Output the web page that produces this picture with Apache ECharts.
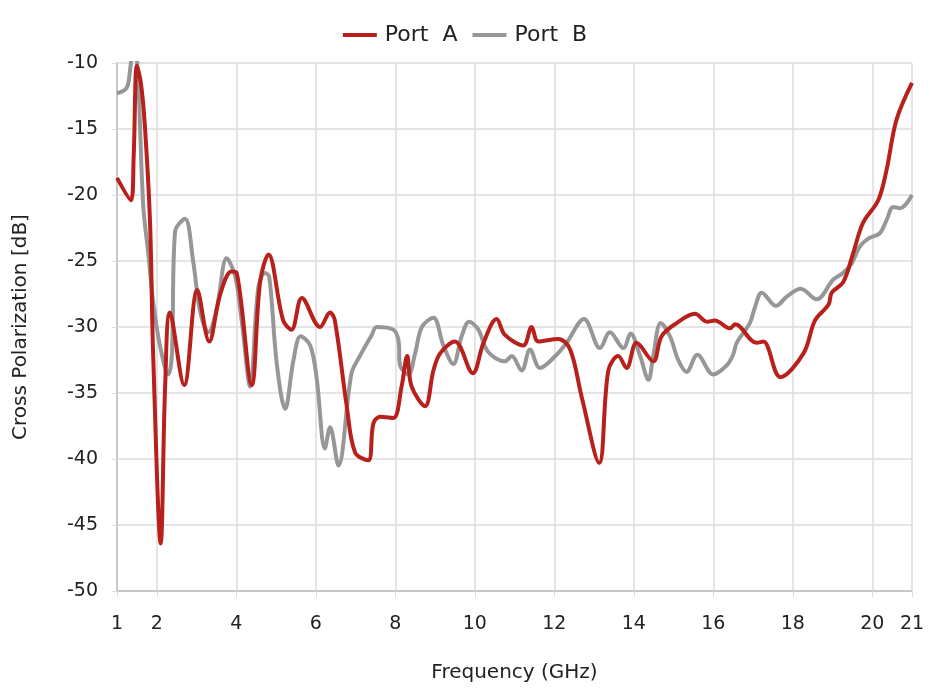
<!DOCTYPE html>
<html>
<head>
<meta charset="utf-8">
<script src="https://cdn.jsdelivr.net/npm/echarts@6/dist/echarts.min.js"></script>
<style>html,body{margin:0;padding:0;background:#fff}#c{width:930px;height:696px}</style>
</head>
<body>
<div id="c"></div>
<script>
const xTicks = [1, 2, 4, 6, 8, 10, 12, 14, 16, 18, 20, 21];
const portAFreq = [1, 1.35, 1.42, 1.5, 1.6, 1.7, 1.83, 1.91, 2.1, 2.21, 2.33, 2.69, 3.02, 3.32, 3.59, 3.88, 4.01, 4.39, 4.6, 4.81, 5.18, 5.39, 5.65, 6.11, 6.36, 6.48, 6.78, 6.99, 7.32, 7.45, 7.62, 7.95, 8.16, 8.3, 8.41, 8.75, 8.96, 9.13, 9.5, 9.95, 10.22, 10.55, 10.76, 11.22, 11.43, 11.6, 12.1, 12.4, 12.69, 13.13, 13.36, 13.61, 13.82, 14.07, 14.49, 14.7, 15.08, 15.54, 15.84, 16.04, 16.42, 16.55, 17.09, 17.26, 17.69, 18.27, 18.56, 18.9, 18.98, 19.27, 19.52, 19.77, 20.15, 20.36, 20.61, 21];
const portAValues = [-18.7, -20.4, -17, -10.2, -11.5, -14.7, -22, -32.1, -46.4, -34.6, -28.9, -34.4, -27.2, -31.1, -27.6, -25.8, -25.9, -34.4, -26.6, -24.5, -29.5, -30.2, -27.8, -30.0, -28.9, -29.5, -36.0, -39.5, -40.1, -37.3, -36.8, -36.9, -34.5, -32.2, -34.5, -36.0, -33.3, -32.0, -31.1, -33.5, -31.2, -29.4, -30.6, -31.4, -30.0, -31.1, -30.9, -31.7, -35.3, -40.3, -33.3, -32.2, -33.1, -31.2, -32.6, -30.7, -29.7, -29.0, -29.6, -29.5, -30.1, -29.8, -31.2, -31.1, -33.8, -32.0, -29.5, -28.3, -27.4, -26.6, -24.4, -22.1, -20.4, -18.1, -14.3, -11.5];
const portBFreq = [1, 1.24, 1.33, 1.42, 1.52, 1.66, 1.79, 1.91, 2.08, 2.29, 2.38, 2.46, 2.71, 2.92, 3.09, 3.3, 3.51, 3.76, 3.97, 4.14, 4.35, 4.55, 4.72, 4.83, 5.02, 5.23, 5.44, 5.62, 5.86, 6.02, 6.23, 6.36, 6.57, 6.9, 7.11, 7.41, 7.53, 7.95, 8.08, 8.12, 8.33, 8.5, 8.67, 8.96, 9.21, 9.46, 9.67, 9.86, 10.09, 10.34, 10.76, 10.93, 11.18, 11.39, 11.64, 12.06, 12.31, 12.75, 13.15, 13.4, 13.74, 13.92, 14.16, 14.37, 14.49, 14.68, 14.91, 15.12, 15.33, 15.6, 16.0, 16.34, 16.5, 16.59, 16.92, 17.05, 17.22, 17.58, 17.85, 18.2, 18.6, 19.02, 19.27, 19.48, 19.69, 19.9, 20.19, 20.36, 20.53, 20.7, 21];
const portBValues = [-12.3, -11.9, -10.5, -8.2, -10.5, -20.8, -24.5, -28.1, -31.4, -33.6, -32.1, -22.8, -21.8, -25.1, -28.8, -30.4, -28.6, -24.8, -26.1, -29.6, -34.5, -27.1, -25.9, -26.2, -32.8, -36.2, -32.5, -30.7, -31.4, -33.8, -39.2, -37.6, -40.5, -33.5, -32.2, -30.6, -30.0, -30.2, -31.0, -32.9, -33.6, -32.0, -30.0, -29.3, -31.4, -32.8, -30.7, -29.6, -30.2, -31.9, -32.6, -32.2, -33.3, -31.7, -33.1, -32.1, -31.2, -29.4, -31.6, -30.4, -31.6, -30.5, -32.2, -34.0, -32.2, -29.7, -30.7, -32.5, -33.4, -32.1, -33.6, -32.9, -32.1, -31.2, -29.7, -28.5, -27.4, -28.4, -27.7, -27.1, -27.9, -26.4, -25.9, -25.2, -23.9, -23.3, -22.9, -21.9, -20.9, -21.0, -20.0];

const font = '"DejaVu Sans", sans-serif';
const chart = echarts.init(document.getElementById('c'));
chart.setOption({
  animation: false,
  textStyle: { fontFamily: font },
  legend: {
    top: 19, left: 'center',
    icon: 'rect', itemWidth: 34, itemHeight: 4, itemGap: 15,
    textStyle: { fontSize: 22, color: '#222', fontFamily: font, padding: [0, 0, 0, 3] },
    data: ['Port  A', 'Port  B']
  },
  grid: { left: 117, right: 18, top: 63, bottom: 105, containLabel: false },
  xAxis: {
    type: 'value', min: 1, max: 21,
    name: 'Frequency (GHz)', nameLocation: 'middle', nameGap: 72,
    nameTextStyle: { fontSize: 20, color: '#222', fontFamily: font },
    axisLine: { show: true, lineStyle: { color: '#c8c8c8', width: 2 } },
    axisTick: { show: true, length: 6, lineStyle: { color: '#dcdcdc' }, customValues: xTicks },
    axisLabel: { fontSize: 19, color: '#222', margin: 24, customValues: xTicks, fontFamily: font },
    splitLine: { show: true, lineStyle: { color: '#dcdcdc', width: 1.5 } }
  },
  yAxis: {
    type: 'value', min: -50, max: -10, interval: 5,
    name: 'Cross Polarization [dB]', nameLocation: 'middle', nameGap: 86,
    nameTextStyle: { fontSize: 20, color: '#222', fontFamily: font },
    axisLine: { show: true, lineStyle: { color: '#c8c8c8', width: 2 } },
    axisTick: { show: true, length: 5, lineStyle: { color: '#dcdcdc' } },
    axisLabel: { fontSize: 19, color: '#222', margin: 19, fontFamily: font },
    splitLine: { show: true, lineStyle: { color: '#dcdcdc', width: 1.5 } }
  },
  series: [
    {
      name: 'Port  B', type: 'line', symbol: 'none', smooth: 0.35, z: 2,
      lineStyle: { color: '#979797', width: 4 }, itemStyle: { color: '#979797' },
      data: portBFreq.map((f, i) => [f, portBValues[i]])
    },
    {
      name: 'Port  A', type: 'line', symbol: 'none', smooth: 0.35, z: 3,
      lineStyle: { color: '#B8201C', width: 4 }, itemStyle: { color: '#B8201C' },
      data: portAFreq.map((f, i) => [f, portAValues[i]])
    }
  ]
});
</script>
</body>
</html>
